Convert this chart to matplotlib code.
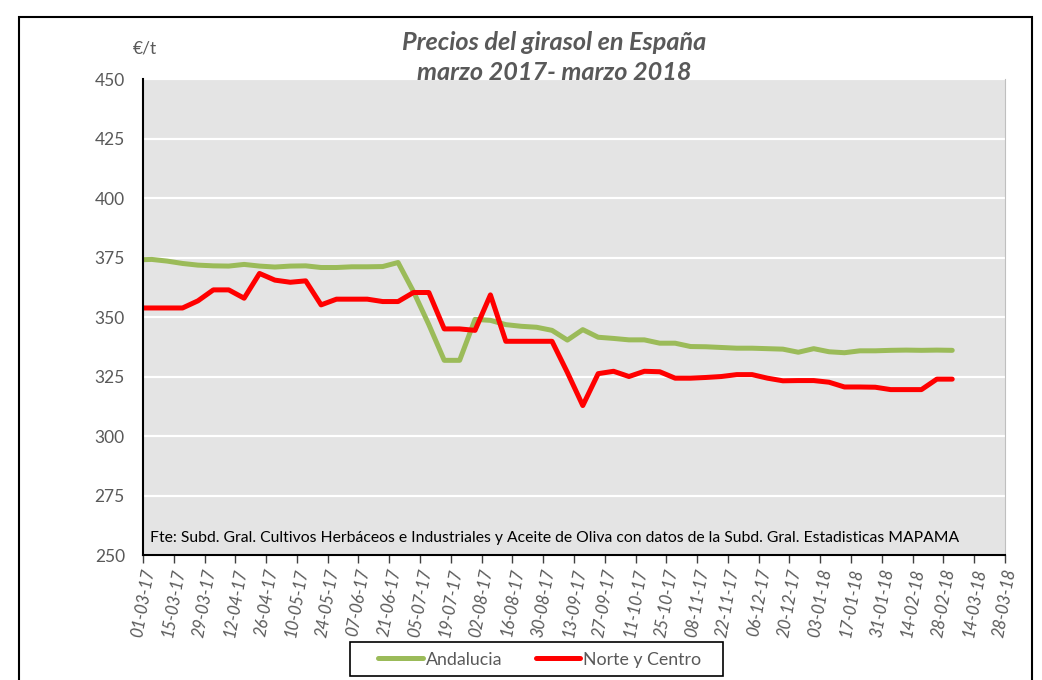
import matplotlib
matplotlib.use("Agg")
import matplotlib.pyplot as plt
import matplotlib.dates as mdates
import pandas as pd
from matplotlib.patches import Rectangle

# weekly price series (EUR/t)
fechas = [
    "2017-02-26", "2017-03-05", "2017-03-12", "2017-03-19", "2017-03-26", "2017-04-02",
    "2017-04-09", "2017-04-16", "2017-04-23", "2017-04-30", "2017-05-07", "2017-05-14",
    "2017-05-21", "2017-05-28", "2017-06-04", "2017-06-11", "2017-06-18", "2017-06-25",
    "2017-07-02", "2017-07-09", "2017-07-16", "2017-07-23", "2017-07-30", "2017-08-06",
    "2017-08-13", "2017-08-20", "2017-08-27", "2017-09-03", "2017-09-10", "2017-09-17",
    "2017-09-24", "2017-10-01", "2017-10-08", "2017-10-15", "2017-10-22", "2017-10-29",
    "2017-11-05", "2017-11-12", "2017-11-19", "2017-11-26", "2017-12-03", "2017-12-10",
    "2017-12-17", "2017-12-24", "2017-12-31", "2018-01-07", "2018-01-14", "2018-01-21",
    "2018-01-28", "2018-02-04", "2018-02-11", "2018-02-18", "2018-02-25", "2018-03-04",
]
andalucia = [
    374.0, 374.2, 373.5, 372.5, 371.8, 371.5, 371.4, 372.1, 371.4, 371.0, 371.4, 371.5,
    370.8, 370.8, 371.1, 371.1, 371.2, 372.9, 360.7, 346.8, 331.8, 331.8, 349.0, 348.6,
    346.8, 346.1, 345.7, 344.4, 340.3, 344.7, 341.5, 341.0, 340.4, 340.4, 339.0, 339.0,
    337.6, 337.5, 337.2, 336.9, 336.9, 336.7, 336.5, 335.2, 336.7, 335.4, 335.0, 335.8,
    335.8, 336.0, 336.1, 336.0, 336.1, 336.0,
]
norte_centro = [
    353.8, 353.8, 353.8, 353.8, 356.8, 361.4, 361.4, 357.9, 368.3, 365.5, 364.6, 365.2,
    355.1, 357.5, 357.5, 357.5, 356.5, 356.5, 360.3, 360.3, 345.0, 345.0, 344.4, 359.3,
    339.8, 339.8, 339.8, 339.8, 326.7, 312.8, 326.2, 327.2, 325.0, 327.2, 327.0, 324.3,
    324.3, 324.6, 325.0, 325.8, 325.8, 324.3, 323.2, 323.3, 323.3, 322.6, 320.6, 320.6,
    320.5, 319.5, 319.5, 319.5, 323.9, 323.9,
]
y_ticks = [250, 275, 300, 325, 350, 375, 400, 425, 450]

fechas = pd.to_datetime(fechas)

plt.rcParams['font.family'] = ['Lato', 'DejaVu Sans']
GRIS = '#595959'

fig = plt.figure(figsize=(10.42, 6.8), dpi=100)
ax = fig.add_axes([0.1372, 0.1838, 0.8273, 0.70])

ax.set_facecolor('#e4e4e4')
ax.plot(fechas, andalucia, color='#9bbb59', lw=3.6, label='Andalucia',
        solid_joinstyle='round', solid_capstyle='round')
ax.plot(fechas, norte_centro, color='#ff0000', lw=3.6, label='Norte y Centro',
        solid_joinstyle='round', solid_capstyle='round')

ax.set_ylim(250, 450)
ax.set_yticks(y_ticks)
ax.yaxis.grid(True, color='white', lw=1.6)
ax.set_axisbelow(True)
ax.tick_params(axis='y', length=0, labelsize=12.5, labelcolor=GRIS, pad=13)

ax.set_xlim(pd.Timestamp('2017-03-01'), pd.Timestamp('2018-03-28'))
ax.set_xticks(pd.date_range('2017-03-01', '2018-03-28', freq='14D'))
ax.xaxis.set_major_formatter(mdates.DateFormatter('%d-%m-%y'))
ax.tick_params(axis='x', length=6, width=1, color='#404040', labelsize=12,
               labelcolor=GRIS, pad=3)
for lab in ax.get_xticklabels():
    lab.set_rotation(80)
    lab.set_ha('center')
    lab.set_va('top')
    lab.set_style('italic')

ax.spines['top'].set_visible(False)
ax.spines['right'].set_color('#bfbfbf')
ax.spines['left'].set_color('black')
ax.spines['left'].set_linewidth(1.5)
ax.spines['bottom'].set_color('black')
ax.spines['bottom'].set_linewidth(1.5)

fig.text(0.532, 0.938, 'Precios del girasol en España', ha='center', va='center',
         fontsize=18.2, fontweight='bold', style='italic', color=GRIS)
fig.text(0.532, 0.894, 'marzo 2017- marzo 2018', ha='center', va='center',
         fontsize=18.2, fontweight='bold', style='italic', color=GRIS)
fig.text(0.127, 0.928, '€/t', ha='left', va='center', fontsize=12.5, color=GRIS)

ax.text(0.008, 0.035, 'Fte: Subd. Gral. Cultivos Herbáceos e Industriales y Aceite de Oliva '
        'con datos de la Subd. Gral. Estadisticas MAPAMA', transform=ax.transAxes,
        fontsize=11.3, color='black', ha='left', va='center')

leg = fig.legend(loc='center', bbox_to_anchor=(0.518, 0.030), ncol=2, frameon=False,
                 fontsize=12.8, handlelength=2.5, handletextpad=0.15,
                 columnspacing=1.9, borderpad=0, borderaxespad=0)
for t in leg.get_texts():
    t.set_color(GRIS)

# legend box, drawn by hand so the side padding matches
fig.patches.append(Rectangle((350 / 1042, 1 - 676 / 680), 373 / 1042, 34 / 680,
                             transform=fig.transFigure, fill=False,
                             edgecolor='black', lw=1.2))

# outer chart border
fig.patches.append(Rectangle((0.018, -0.01), 0.972, 0.985, transform=fig.transFigure,
                             fill=False, edgecolor='black', lw=1.5))

fig.savefig('out.png', dpi=100)
